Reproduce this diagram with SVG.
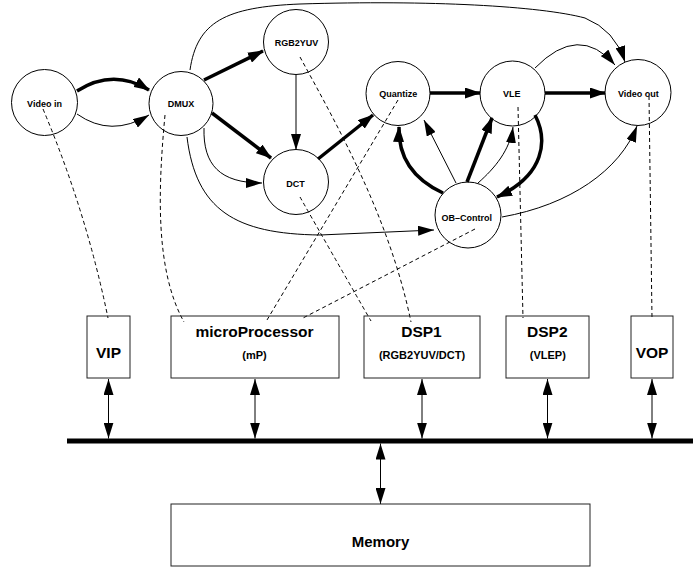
<svg xmlns="http://www.w3.org/2000/svg" width="700" height="567" viewBox="0 0 700 567">
<style>
  .node circle { fill: none; stroke: #000; stroke-width: 1; }
  .box rect { fill: none; stroke: #222; stroke-width: 1; }
  text { font-family: "Liberation Sans", Arial, sans-serif; font-weight: bold; fill: #000; text-anchor: middle; }
  .cl { font-size: 9px; }
  .bl { font-size: 15.5px; }
  .sl { font-size: 11px; }
  .thin { fill: none; stroke: #000; stroke-width: 1; marker-end: url(#ah); }
  .thick { fill: none; stroke: #000; stroke-width: 3.5; marker-end: url(#ahk); }
  .dash { fill: none; stroke: #000; stroke-width: 1; stroke-dasharray: 4,3; }
  .bi { fill: none; stroke: #000; stroke-width: 1; marker-start: url(#ahb); marker-end: url(#ahb); }
</style>
<defs>
  <marker id="ah" markerUnits="userSpaceOnUse" markerWidth="16" markerHeight="10" refX="16" refY="5" orient="auto">
    <path d="M0,0 L16,5 L0,10 z" fill="#000"/>
  </marker>
  <marker id="ahk" markerUnits="userSpaceOnUse" markerWidth="16" markerHeight="11" refX="15" refY="5.5" orient="auto">
    <path d="M0,0 L16,5.5 L0,11 z" fill="#000"/>
  </marker>
  <marker id="ahb" markerUnits="userSpaceOnUse" markerWidth="16" markerHeight="10" refX="16" refY="5" orient="auto-start-reverse">
    <path d="M0,0 L16,5 L0,10 z" fill="#000"/>
  </marker>
</defs>

<g id="connectors">
  <!-- control / data flow -->
  <path class="thick" d="M77,91 Q113,68 149,90"/>
  <path class="thin" d="M77,114 Q111,138 149,115"/>
  <path class="thick" d="M204,80 L263,51"/>
  <path class="thick" d="M212,113 L271,158"/>
  <path class="thin" d="M296,75 L296,150"/>
  <path class="thin" d="M204,128 C203,165 220,183 262,183"/>
  <path class="thin" d="M187,137 C196,210 235,234 320,235 L434,230"/>
  <path class="thin" d="M190,70 C197,22 225,7 300,4 C430,0 540,6 585,18 Q615,30 625,62"/>
  <path class="thick" d="M318,159 L373,115"/>
  <path class="thick" d="M430,93 L480,93"/>
  <path class="thick" d="M545,93 L605,93"/>
  <path class="thin" d="M535,68 Q579,23 615,65"/>
  <path class="thick" d="M443,193 C415,180 398,160 399,127"/>
  <path class="thin" d="M456,183 L424,120"/>
  <path class="thick" d="M467,182 L492,118"/>
  <path class="thin" d="M478,183 C495,168 510,150 513,127"/>
  <path class="thick" d="M535,115 C548,140 545,175 497,197"/>
  <path class="thin" d="M502,217 C570,205 620,170 637,126"/>
  <!-- mapping (dashed) -->
  <path class="dash" d="M43,109 Q86,211 108,318"/>
  <path class="dash" d="M165,115 C158,190 155,270 184,322"/>
  <path class="dash" d="M300,57 C340,130 390,220 411,322"/>
  <path class="dash" d="M300,197 Q330,250 371,321"/>
  <path class="dash" d="M398,100 L267,320"/>
  <path class="dash" d="M475,229 L303,318"/>
  <path class="dash" d="M518,107 L523,318"/>
  <path class="dash" d="M649,96 L652,318"/>
  <!-- bus -->
  <path d="M67,441 L693,441" stroke="#000" stroke-width="5" fill="none"/>
  <path class="bi" d="M108.5,379 L108.5,438.5"/>
  <path class="bi" d="M255,379 L255,438.5"/>
  <path class="bi" d="M422,379 L422,438.5"/>
  <path class="bi" d="M547.5,379 L547.5,438.5"/>
  <path class="bi" d="M652,379 L652,438.5"/>
  <path class="bi" d="M380.5,443.5 L380.5,504"/>
</g>

<g id="video-in" class="node"><circle cx="44.5" cy="102.5" r="33"/><text class="cl" x="44.5" y="106.5">Video in</text></g>
<g id="dmux" class="node"><circle cx="181" cy="103.5" r="32"/><text class="cl" x="181" y="106.5">DMUX</text></g>
<g id="rgb2yuv" class="node"><circle cx="296" cy="42" r="32.5"/><text class="cl" x="296.5" y="45.5">RGB2YUV</text></g>
<g id="dct" class="node"><circle cx="296" cy="182" r="32.5"/><text class="cl" x="295.5" y="186.5">DCT</text></g>
<g id="quantize" class="node"><circle cx="398" cy="93.5" r="32"/><text class="cl" x="398.3" y="96.5">Quantize</text></g>
<g id="vle" class="node"><circle cx="512.5" cy="93.5" r="32.5"/><text class="cl" x="511.7" y="96.5">VLE</text></g>
<g id="video-out" class="node"><circle cx="638" cy="92.5" r="33"/><text class="cl" x="638.3" y="96.5">Video out</text></g>
<g id="ob-control" class="node"><circle cx="468" cy="215" r="33"/><text class="cl" x="466.7" y="221">OB–Control</text></g>

<g id="vip" class="box"><rect x="87" y="316" width="43" height="62"/><text class="bl" x="108.5" y="358">VIP</text></g>
<g id="microprocessor" class="box"><rect x="171" y="316" width="168" height="62"/><text class="bl" x="254.5" y="337">microProcessor</text><text class="sl" x="254.5" y="358.5">(mP)</text></g>
<g id="dsp1" class="box"><rect x="364" y="316" width="116" height="62"/><text class="bl" x="421.5" y="337">DSP1</text><text class="sl" x="422" y="358.5">(RGB2YUV/DCT)</text></g>
<g id="dsp2" class="box"><rect x="506" y="316" width="83" height="62"/><text class="bl" x="547.3" y="337">DSP2</text><text class="sl" x="547.8" y="358.5">(VLEP)</text></g>
<g id="vop" class="box"><rect x="631" y="316" width="42" height="62"/><text class="bl" x="652" y="358">VOP</text></g>
<g id="memory" class="box"><rect x="171" y="504" width="419" height="62"/><text class="bl" x="380.5" y="546.5" style="font-size:15px">Memory</text></g>
</svg>
